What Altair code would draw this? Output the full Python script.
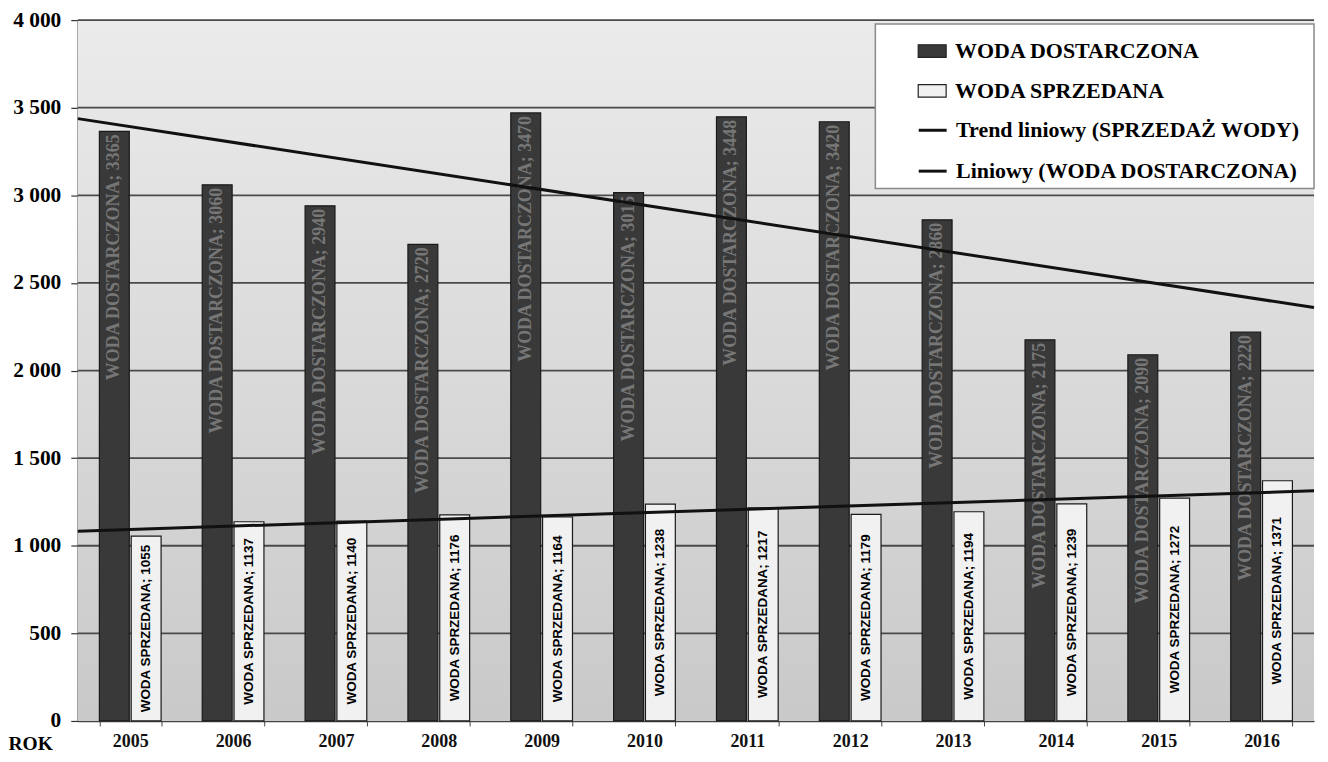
import altair as alt
import pandas as pd

# ---- data ----
years = [2005, 2006, 2007, 2008, 2009, 2010, 2011, 2012, 2013, 2014, 2015, 2016]
delivered = [3365, 3060, 2940, 2720, 3470, 3015, 3448, 3420, 2860, 2175, 2090, 2220]
sold = [1055, 1137, 1140, 1176, 1164, 1238, 1217, 1179, 1194, 1239, 1272, 1371]
y_ticks = [0, 500, 1000, 1500, 2000, 2500, 3000, 3500, 4000]

S_DEL = "WODA DOSTARCZONA"
S_SOLD = "WODA SPRZEDANA"
T_SOLD = "Trend liniowy (SPRZEDAŻ WODY)"
T_DEL = "Liniowy (WODA DOSTARCZONA)"
x_title = "ROK"

W, H = 1240, 703
SERIF = "Liberation Serif"
SANS = "Liberation Sans"

rows = []
for i, yr in enumerate(years):
    rows.append({"year": yr, "idx": i + 1, "series": S_DEL, "value": delivered[i]})
    rows.append({"year": yr, "idx": i + 1, "series": S_SOLD, "value": sold[i]})
df = pd.DataFrame(rows)
grid_df = pd.DataFrame({"value": y_ticks[1:]})
one = pd.DataFrame({"a": [0]})

y_scale = alt.Scale(domain=[0, 4000], nice=False, zero=True)
y_axis = alt.Axis(values=y_ticks,
                  labelExpr="replace(format(datum.value, ',d'), ',', ' ')",
                  title=None, grid=False,
                  labelFont=SERIF, labelFontSize=21.5, labelFontWeight="bold",
                  labelColor="black", labelPadding=10,
                  tickSize=7, tickColor="#333", tickWidth=1.2,
                  domainColor="#222", domainWidth=1.5)

x_scale = alt.Scale(domain=years, paddingInner=0.40, paddingOuter=0.21)
off_scale = alt.Scale(domain=[S_DEL, S_SOLD], paddingInner=0.06, paddingOuter=0)
x_axis = alt.Axis(title=x_title, titleFont=SERIF, titleFontSize=19.5,
                  titleFontWeight="bold", titleColor="black",
                  titleAlign="left", titleBaseline="middle",
                  titleX=-70, titleY=23, titleAngle=0,
                  labelAngle=0, labelFont=SERIF, labelFontSize=18,
                  labelFontWeight="bold", labelColor="#111", labelPadding=7,
                  tickBand="extent", tickSize=5, tickColor="#444",
                  domainColor="#444", domainWidth=1.5, grid=False)

Y = lambda field: alt.Y(field, scale=y_scale, axis=y_axis)
X = alt.X("year:O", scale=x_scale, axis=x_axis)
XO = alt.XOffset("series:N", scale=off_scale)

fill_legend = alt.Legend(title=None, orient="none", legendX=842, legendY=16,
                         direction="vertical", padding=0,
                         symbolType="M-1,-0.45L1,-0.45L1,0.45L-1,0.45Z",
                         symbolSize=784, symbolStrokeColor="#222",
                         symbolStrokeWidth=1.2,
                         labelFont=SERIF, labelFontSize=22, labelFontWeight="bold",
                         labelColor="black", labelOffset=8, rowPadding=14,
                         labelLimit=500)
stroke_legend = alt.Legend(title=None, orient="none", legendX=842, legendY=95,
                           direction="vertical", padding=0,
                           symbolType="stroke", symbolSize=784,
                           symbolStrokeWidth=3,
                           labelFont=SERIF, labelFontSize=22, labelFontWeight="bold",
                           labelColor="black", labelOffset=8, rowPadding=14,
                           labelLimit=500)

bars = alt.Chart(df).mark_bar(stroke="#1a1a1a", strokeWidth=1.2).encode(
    x=X, xOffset=XO, y=Y("value:Q"),
    fill=alt.Fill("series:N",
                  scale=alt.Scale(domain=[S_DEL, S_SOLD], range=["#393939", "#f1f1f1"]),
                  legend=fill_legend),
)

bg = alt.Chart(one).mark_rect(
    fill=alt.LinearGradient(
        gradient="linear",
        stops=[alt.GradientStop(color="#ebebeb", offset=0),
               alt.GradientStop(color="#c9c9c9", offset=1)],
        x1=0, x2=0, y1=0, y2=1)
).encode(x=alt.value(0), x2=alt.value("width"), y=alt.value(0), y2=alt.value("height"))

grid = alt.Chart(grid_df).mark_rule(color="#4a4a4a", strokeWidth=1.8).encode(
    y=Y("value:Q"))

dtext = alt.Chart(df).transform_filter(
    alt.datum.series == S_DEL
).transform_calculate(
    label="datum.series + '; ' + datum.value"
).mark_text(angle=270, align="right", baseline="middle", dx=-3,
            font=SERIF, fontSize=18, fontWeight="bold", color="#767676").encode(
    x=X, xOffset=XO, y=Y("value:Q"), text="label:N",
)

ltext = alt.Chart(df).transform_filter(
    alt.datum.series == S_SOLD
).transform_calculate(
    label="datum.series + '; ' + datum.value",
    mid="datum.value / 2",
).mark_text(angle=270, align="center", baseline="middle",
            font=SANS, fontSize=13.5, fontWeight="bold", color="black").encode(
    x=X, xOffset=XO, y=Y("mid:Q"), text="label:N",
)

lines = alt.Chart(df).transform_calculate(
    trend=f"datum.series == '{S_DEL}' ? '{T_DEL}' : '{T_SOLD}'"
).transform_regression(
    "idx", "value", groupby=["trend"], extent=[0.5, 12.5]
).mark_line(strokeWidth=3).encode(
    x=alt.X("idx:Q", scale=alt.Scale(domain=[0.5, 12.5], nice=False, zero=False), axis=None),
    y=Y("value:Q"),
    stroke=alt.Stroke("trend:N",
                      scale=alt.Scale(domain=[T_SOLD, T_DEL], range=["#111111", "#111111"]),
                      legend=stroke_legend),
)

box = alt.Chart(one).mark_rect(fill="white", stroke="#8a8a8a", strokeWidth=1.5).encode(
    x=alt.value(800), x2=alt.value("width"), y=alt.value(4), y2=alt.value(169))

chart = alt.layer(
    bg, grid, alt.layer(bars, dtext, ltext), lines, box
).resolve_scale(x="independent").properties(
    width=W, height=H,
    padding={"left": 0, "top": 0, "right": 0, "bottom": 0},
    background="white",
).configure_view(stroke=None)

chart.save("out.html", embed_options={"renderer": "svg", "actions": False})
